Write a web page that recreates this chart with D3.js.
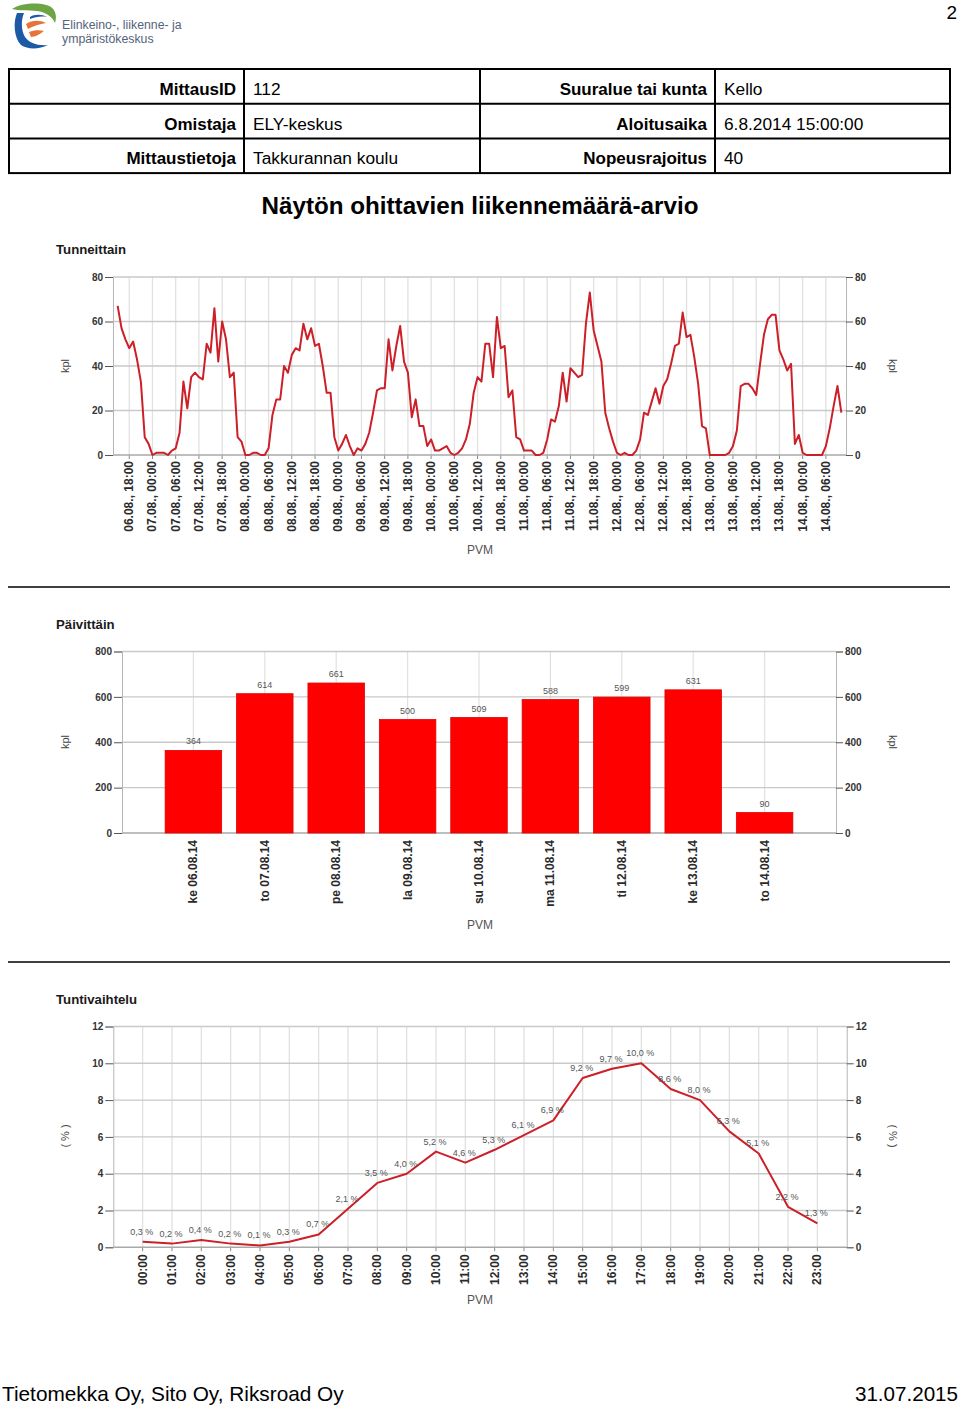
<!DOCTYPE html>
<html><head><meta charset="utf-8">
<script src="https://cdn.jsdelivr.net/npm/d3@7"></script>
<style>body{margin:0;background:#fff;} svg{display:block;font-family:"Liberation Sans",Arial,sans-serif;}</style>
</head><body>
<svg id="c" width="960" height="1407"></svg>
<script>
// ---------- DATA ----------
const headerRows = [
  ["MittausID", "112", "Suuralue tai kunta", "Kello"],
  ["Omistaja", "ELY-keskus", "Aloitusaika", "6.8.2014 15:00:00"],
  ["Mittaustietoja", "Takkurannan koulu", "Nopeusrajoitus", "40"]
];
const hourlyStartHour = 15; // 06.08.2014 15:00
const hourlyValues = [
  67,57,52,48,51,43,33,8,5,
  0,1,1,1,0,2,3,10,33,21,35,37,35,34,50,46,66,42,60,52,35,37,8,6,
  0,0,1,1,0,0,3,18,25,25,40,37,45,48,47,59,52,57,49,50,40,28,28,8,
  2,5,9,4,0,3,2,5,10,19,29,30,30,52,38,49,58,42,37,17,25,13,13,4,
  7,2,2,3,4,1,0,1,3,7,14,28,35,33,50,50,35,62,48,49,26,29,8,7,
  2,2,2,0,0,1,7,16,15,22,37,24,39,37,35,36,59,73,56,49,42,19,12,6,
  1,0,1,0,0,2,7,19,18,24,30,23,31,34,41,49,50,64,53,54,44,32,13,12,
  0,0,0,0,0,1,4,11,31,32,32,30,27,41,54,61,63,63,47,43,38,41,5,9,
  1,0,0,0,0,0,4,12,22,31,19
];
const hourlyTickLabels = [
  "06.08., 18:00",
  "07.08., 00:00","07.08., 06:00","07.08., 12:00","07.08., 18:00",
  "08.08., 00:00","08.08., 06:00","08.08., 12:00","08.08., 18:00",
  "09.08., 00:00","09.08., 06:00","09.08., 12:00","09.08., 18:00",
  "10.08., 00:00","10.08., 06:00","10.08., 12:00","10.08., 18:00",
  "11.08., 00:00","11.08., 06:00","11.08., 12:00","11.08., 18:00",
  "12.08., 00:00","12.08., 06:00","12.08., 12:00","12.08., 18:00",
  "13.08., 00:00","13.08., 06:00","13.08., 12:00","13.08., 18:00",
  "14.08., 00:00","14.08., 06:00"
];
const hourlyYTicks = [0,20,40,60,80];
const dailyCategories = ["ke 06.08.14","to 07.08.14","pe 08.08.14","la 09.08.14","su 10.08.14","ma 11.08.14","ti 12.08.14","ke 13.08.14","to 14.08.14"];
const dailyValues = [364,614,661,500,509,588,599,631,90];
const dailyYTicks = [0,200,400,600,800];
const hourCategories = ["00:00","01:00","02:00","03:00","04:00","05:00","06:00","07:00","08:00","09:00","10:00","11:00","12:00","13:00","14:00","15:00","16:00","17:00","18:00","19:00","20:00","21:00","22:00","23:00"];
const hourShares = [0.3,0.2,0.4,0.2,0.1,0.3,0.7,2.1,3.5,4.0,5.2,4.6,5.3,6.1,6.9,9.2,9.7,10.0,8.6,8.0,6.3,5.1,2.2,1.3];
const shareYTicks = [0,2,4,6,8,10,12];

// ---------- STYLE ----------
const RED_LINE = "#cc1f28";
const BAR_RED = "#ff0000";
const GRID_H = "#c9c9c9";
const GRID_V = "#e1e1e1";
const TXT = "#2a2a2a";

const svg = d3.select("#c");

// ---------- HEADER ----------
svg.append("text").attr("x",957).attr("y",19).attr("text-anchor","end")
  .attr("font-size",19).attr("fill","#000").text("2");

// logo
const logo = svg.append("g");
logo.append("path").attr("fill","#6da544")
  .attr("d","M12,9 C22,2 44,2 51,7 C56,11 57,17 55,23 C52,16 45,12 37,11 C27,10 19,11 12,9 Z");
logo.append("path").attr("fill","#1d5aa6")
  .attr("d","M17,13 C13,22 14,38 21,45 C28,50 40,49 48,45 C38,46 29,43 25,37 C21,30 21,20 24,13 Z");
logo.append("path").attr("fill","#e8733a")
  .attr("d","M26,24 C32,20 40,20 46,23 C40,24 33,26 28,29 Z");
logo.append("path").attr("fill","#e8733a")
  .attr("d","M29,32 C34,30 40,30 44,31 C40,34 35,37 31,37 Z");
logo.append("path").attr("fill","#1d5aa6")
  .attr("d","M30,17 C34,14 42,14 47,17 C41,16 35,17 30,19 Z");
logo.append("text").attr("x",62).attr("y",29).attr("font-size",12.3).attr("fill","#55637a").text("Elinkeino-, liikenne- ja");
logo.append("text").attr("x",62).attr("y",43).attr("font-size",12.3).attr("fill","#55637a").text("ympäristökeskus");

// table
const tbl = svg.append("g");
const tX0 = 9, tX1 = 950, tY0 = 69, rowH = 34.7;
const colX = [244, 480, 715];
tbl.append("rect").attr("x",tX0).attr("y",tY0).attr("width",tX1-tX0).attr("height",rowH*3)
  .attr("fill","none").attr("stroke","#000").attr("stroke-width",2);
[1,2].forEach(i=>tbl.append("line").attr("x1",tX0).attr("x2",tX1)
  .attr("y1",tY0+rowH*i).attr("y2",tY0+rowH*i).attr("stroke","#000").attr("stroke-width",2));
colX.forEach(x=>tbl.append("line").attr("x1",x).attr("x2",x).attr("y1",tY0).attr("y2",tY0+rowH*3)
  .attr("stroke","#000").attr("stroke-width",2));
headerRows.forEach((r,i)=>{
  const y = tY0 + rowH*i + rowH/2 + 8.5;
  tbl.append("text").attr("x",colX[0]-8).attr("y",y).attr("text-anchor","end").attr("font-weight","bold").attr("font-size",17).text(r[0]);
  tbl.append("text").attr("x",colX[0]+9).attr("y",y).attr("font-size",17.3).text(r[1]);
  tbl.append("text").attr("x",colX[2]-8).attr("y",y).attr("text-anchor","end").attr("font-weight","bold").attr("font-size",17).text(r[2]);
  tbl.append("text").attr("x",colX[2]+9).attr("y",y).attr("font-size",17.3).text(r[3]);
});

svg.append("text").attr("x",480).attr("y",214).attr("text-anchor","middle")
  .attr("font-weight","bold").attr("font-size",24.2).text("Näytön ohittavien liikennemäärä-arvio");

// separators
[587, 962].forEach(y=>svg.append("line").attr("x1",8).attr("x2",950).attr("y1",y).attr("y2",y)
  .attr("stroke","#000").attr("stroke-width",1.6));

// footer
svg.append("text").attr("x",2).attr("y",1401).attr("font-size",20.8).text("Tietomekka Oy, Sito Oy, Riksroad Oy");
svg.append("text").attr("x",958).attr("y",1401).attr("text-anchor","end").attr("font-size",20.6).text("31.07.2015");

// ---------- helpers ----------
function yAxes(g, y, left, right, ticks, fmt){
  ticks.forEach(t=>{
    const yy = y(t);
    g.append("line").attr("x1",left).attr("x2",right).attr("y1",yy).attr("y2",yy)
      .attr("stroke", t===0 ? "#a8a8a8" : GRID_H).attr("stroke-width",1.4);
  });
  const la = g.append("g").attr("transform",`translate(${left},0)`)
    .call(d3.axisLeft(y).tickValues(ticks).tickSize(8).tickPadding(2).tickFormat(fmt));
  const ra = g.append("g").attr("transform",`translate(${right},0)`)
    .call(d3.axisRight(y).tickValues(ticks).tickSize(7).tickPadding(2).tickFormat(fmt));
  [la,ra].forEach(a=>{
    a.select(".domain").attr("stroke","#b5b5b5");
    a.selectAll(".tick line").attr("stroke","#555");
    a.selectAll("text").attr("font-size",10).attr("font-weight","bold").attr("fill","#333")
      .attr("font-family","Liberation Sans, Arial");
  });
}
function rotatedXLabels(g, positions, labels, yTop){
  labels.forEach((l,i)=>{
    g.append("text").attr("transform",`translate(${positions[i]+4},${yTop}) rotate(-90)`)
      .attr("text-anchor","end").attr("font-size",12).attr("font-weight","bold").attr("fill",TXT).text(l);
  });
}
function chartTitle(text, y){
  svg.append("text").attr("x",56).attr("y",y).attr("font-weight","bold").attr("font-size",13.2)
    .attr("fill","#1a1a1a").text(text);
}
function sideLabels(text, cy, lx, rx){
  svg.append("text").attr("transform",`translate(${lx},${cy}) rotate(-90)`).attr("text-anchor","middle")
    .attr("font-size",11).attr("fill","#444").text(text);
  svg.append("text").attr("transform",`translate(${rx},${cy}) rotate(90)`).attr("text-anchor","middle")
    .attr("font-size",11).attr("fill","#444").text(text);
}
function pvm(y){
  svg.append("text").attr("x",480).attr("y",y).attr("text-anchor","middle").attr("font-size",12)
    .attr("fill","#555").text("PVM");
}

// ---------- CHART 1: Tunneittain ----------
{
  const g = svg.append("g");
  const L = 113, R = 846, Y0 = 455, Y1 = 277;
  const x = d3.scaleLinear().domain([-1.2, 188.2]).range([L, R]);
  const y = d3.scaleLinear().domain([0, 80]).range([Y0, Y1]);
  const tickH = hourlyTickLabels.map((d,i)=> 3 + 6*i);
  tickH.forEach(h=>{
    g.append("line").attr("x1",x(h)).attr("x2",x(h)).attr("y1",Y1).attr("y2",Y0)
      .attr("stroke",GRID_V).attr("stroke-width",1.3);
    g.append("line").attr("x1",x(h)).attr("x2",x(h)).attr("y1",Y0).attr("y2",Y0+4)
      .attr("stroke","#888");
  });
  yAxes(g, y, L, R, hourlyYTicks, d3.format("d"));
  g.append("path").datum(hourlyValues)
    .attr("fill","none").attr("stroke",RED_LINE).attr("stroke-width",2).attr("stroke-linejoin","round")
    .attr("d", d3.line().x((d,i)=>x(i)).y(d=>y(d)));
  rotatedXLabels(g, tickH.map(h=>x(h)), hourlyTickLabels, Y0+6);
  chartTitle("Tunneittain", 254);
  sideLabels("kpl", 366, 69, 889);
  pvm(554);
}

// ---------- CHART 2: Päivittäin ----------
{
  const g = svg.append("g");
  const L = 122, R = 836, Y0 = 833, Y1 = 651.5;
  const x = d3.scalePoint().domain(dailyCategories).range([L, R]).padding(1);
  const y = d3.scaleLinear().domain([0, 800]).range([Y0, Y1]);
  dailyCategories.forEach(c=>{
    g.append("line").attr("x1",x(c)).attr("x2",x(c)).attr("y1",Y1).attr("y2",Y0)
      .attr("stroke",GRID_V).attr("stroke-width",1.2);
  });
  yAxes(g, y, L, R, dailyYTicks, d3.format("d"));
  const bw = 56.5;
  g.selectAll("rect.bar").data(dailyValues).join("rect").attr("class","bar")
    .attr("x",(d,i)=>x(dailyCategories[i]) - bw/2).attr("width",bw)
    .attr("y",d=>y(d)).attr("height",d=>Y0 - y(d))
    .attr("fill",BAR_RED).attr("stroke","#e00000").attr("stroke-width",0.8);
  g.selectAll("text.val").data(dailyValues).join("text").attr("class","val")
    .attr("x",(d,i)=>x(dailyCategories[i])).attr("y",d=>y(d)-6)
    .attr("text-anchor","middle").attr("font-size",9).attr("fill","#555").text(d=>d);
  rotatedXLabels(g, dailyCategories.map(c=>x(c)), dailyCategories, Y0+7);
  chartTitle("Päivittäin", 629);
  sideLabels("kpl", 742, 69, 889);
  pvm(929);
}

// ---------- CHART 3: Tuntivaihtelu ----------
{
  const g = svg.append("g");
  const L = 113.3, R = 846.7, Y0 = 1247.3, Y1 = 1026.5;
  const x = d3.scalePoint().domain(hourCategories).range([L, R]).padding(1);
  const y = d3.scaleLinear().domain([0, 12]).range([Y0, Y1]);
  hourCategories.forEach(c=>{
    g.append("line").attr("x1",x(c)).attr("x2",x(c)).attr("y1",Y1).attr("y2",Y0)
      .attr("stroke",GRID_V).attr("stroke-width",1.3);
    g.append("line").attr("x1",x(c)).attr("x2",x(c)).attr("y1",Y0).attr("y2",Y0+4).attr("stroke","#888");
  });
  yAxes(g, y, L, R, shareYTicks, d3.format("d"));
  g.append("path").datum(hourShares)
    .attr("fill","none").attr("stroke",RED_LINE).attr("stroke-width",2).attr("stroke-linejoin","round")
    .attr("d", d3.line().x((d,i)=>x(hourCategories[i])).y(d=>y(d)));
  const f = d3.format(".1f");
  g.selectAll("text.val").data(hourShares).join("text").attr("class","val")
    .attr("x",(d,i)=>x(hourCategories[i]) - 1).attr("y",d=>y(d)-7)
    .attr("text-anchor","middle").attr("font-size",9).attr("fill","#555")
    .text(d=>f(d).replace(".", ",") + " %");
  rotatedXLabels(g, hourCategories.map(c=>x(c)), hourCategories, Y0+7);
  chartTitle("Tuntivaihtelu", 1004);
  sideLabels("( % )", 1136, 69, 889);
  pvm(1304);
}
</script>
</body></html>
